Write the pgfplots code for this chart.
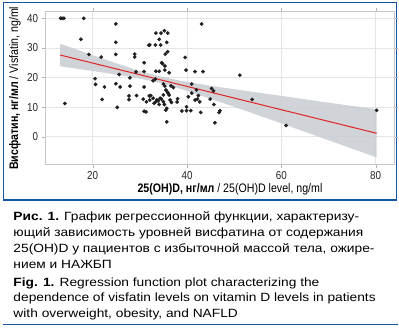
\documentclass[border=0pt]{standalone}
\usepackage{fontspec}
\setmainfont{Liberation Sans}
\newfontfamily\nf{Liberation Sans}[FakeStretch=0.86]
\newfontfamily\cf{Liberation Sans}[FakeStretch=1.15]
\usepackage{pgfplots}
\pgfplotsset{compat=1.18}
\definecolor{frameblue}{RGB}{20,85,165}
\definecolor{fitred}{RGB}{225,35,35}
\definecolor{bandgray}{RGB}{200,204,209}
\begin{document}
\begin{tikzpicture}
\path[use as bounding box] (0bp,0bp) rectangle (399bp,-328bp);
\coordinate (axsw) at (45bp,-164bp);
\draw[frameblue, line width=1.3bp] (3.3bp,-2.7bp) rectangle (396.7bp,-200bp);
\draw[frameblue, line width=1.6bp] (3.3bp,-324.3bp) -- (398bp,-324.3bp);
\begin{axis}[
  at={(axsw)}, anchor=south west,
  scale only axis, width=349bp, height=153bp,
  xmin=9.89, xmax=83.88, ymin=-9.22, ymax=42.47,
  xtick={20,40,60,80}, ytick={0,10,20,30,40},
  grid=major, major grid style={gray!20, line width=0.5bp},
  axis line style={gray!45, line width=0.6bp},
  tick align=outside, major tick length=3.5bp, tick style={gray!60},
  ticklabel style={font=\nf\fontsize{11.5}{12}\selectfont, text=black!85},
  /pgf/number format/assume math mode=true,
  clip=true,
]
\addplot[fill=bandgray, draw=none, fill opacity=0.85] coordinates {
(13.1,31.4) (20,27.55) (25,24.8) (30,22.2) (34,20.5) (38,19.1) (45,17.2) (50,16.05) (60,13.8) (70,11.5) (80.2,9.3)
(80.2,-7.0) (70,-1.2) (60,4.5) (50,10.1) (45,12.8) (38,16.5) (34,18.3) (30,19.6) (25,21.0) (20,22.2) (13.1,23.8)
};
\addplot[only marks, mark=*, mark size=1.7bp, mark options={fill=black!88, draw=black!88}] coordinates {
(13.2,40) (13.5,40) (13.9,40) (18.1,40) (17.5,32.9) (19.2,27.8) (14.1,11.2)
(21.8,26.9) (20.5,19.6) (20.6,17.7) (22.5,16.8) (22.0,12.6)
(24.9,38.1) (24.9,31.9) (24.9,27.8) (25.6,21.0) (24.9,17.9) (25.8,16.8) (25.2,9.9)
(27.9,19.9) (27.9,17.1) (27.7,13.8) (27.7,12.5) (28.9,27.9) (28.9,26.9) (29.2,21.9) (29.3,13.9)
(30.9,25.0) (30.9,22.0) (30.9,16.8) (30.7,12.7) (31.4,11.8) (30.9,8.6) (31.3,8.4) (31.9,30.9)
(32.3,13.9) (32.1,12.4) (32.8,13.0) (33.0,11.3) (33.4,11.8) (33.6,12.4) (33.9,12.1) (34.1,10.9)
(34.3,13.0) (35.0,14.1) (34.6,12.7) (35.0,11.8) (35.2,10.9) (35.5,15.8) (35.8,15.2) (36.0,14.7)
(36.2,14.1) (36.4,12.4) (36.7,11.6) (35.7,9.6) (35.5,9.0) (35.7,5.0) (36.6,17.2) (37.1,16.6)
(38.0,12.8) (37.9,11.7) (38.9,8.7) (32.0,13.8)
(33.4,35.0) (34.5,35.0) (35.2,35.8) (35.9,35.0) (34.1,32.9) (32.1,31.0) (33.3,31.0) (34.4,31.0)
(35.7,31.9) (35.9,28.7) (35.4,27.9) (34.6,25.0) (34.8,24.7) (35.3,23.9) (33.4,22.1) (34.1,22.1)
(35.3,22.5) (36.2,21.6) (32.8,18.9) (33.3,19.5) (35.0,17.8) (35.3,17.1)
(39.6,26.8) (39.8,22.5) (41.7,22.0) (43.4,22.0) (43.1,38.1)
(41.0,17.8) (42.0,15.8) (42.4,13.9) (42.7,11.8) (41.7,12.4) (41.0,14.7) (39.9,8.8) (40.8,8.8)
(39.9,10.1) (42.9,8.2) (45.2,16.3) (45.6,15.5) (44.9,12.7) (45.7,10.9) (47.0,8.8) (46.8,8.2)
(45.9,4.7) (40.3,13.5) (42.2,12.7)
(51.2,20.8) (53.8,12.6) (61.0,3.8) (80.2,8.9)
};
\addplot[fitred, line width=1bp] coordinates {(13.1,27.6) (80.2,1.16)};
\end{axis}
\node[rotate=90, font=\nf\fontsize{12.4}{14}\selectfont] at (15bp,-88.3bp) {\textbf{Висфатин, нг/мл} / Visfatin, ng/ml};
\node[anchor=base, font=\nf\fontsize{12.4}{14}\selectfont] at (230bp,-192.7bp) {\textbf{25(OH)D, нг/мл} / 25(OH)D level, ng/ml};
\begin{scope}[every node/.style={anchor=base west, inner sep=0, font=\cf\fontsize{12}{14}\selectfont}]
\node at (13.3bp,-220.7bp) {\textbf{Рис. 1.} График регрессионной функции, характеризу-};
\node at (13.3bp,-236.7bp) {ющий зависимость уровней висфатина от содержания};
\node at (13.3bp,-252.7bp) {25(OH)D у пациентов с избыточной массой тела, ожире-};
\node at (13.3bp,-268.7bp) {нием и НАЖБП};
\node at (13.3bp,-286bp) {\textbf{Fig. 1.} Regression function plot characterizing the};
\node at (13.3bp,-301.5bp) {dependence of visfatin levels on vitamin D levels in patients};
\node at (13.3bp,-317bp) {with overweight, obesity, and NAFLD};
\end{scope}
\end{tikzpicture}
\end{document}
